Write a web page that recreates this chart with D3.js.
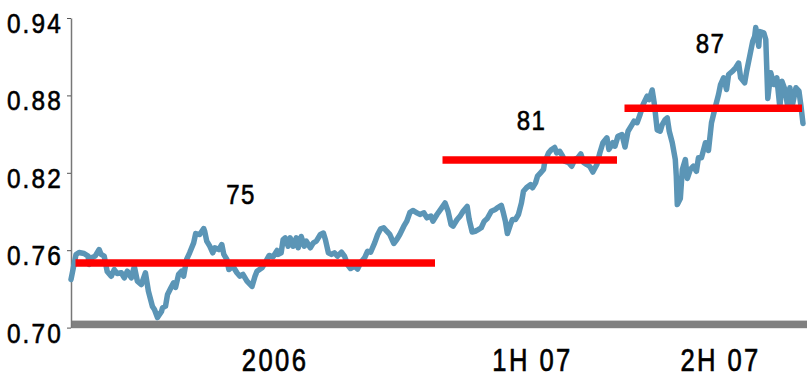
<!DOCTYPE html>
<html>
<head>
<meta charset="utf-8">
<script src="https://cdn.jsdelivr.net/npm/d3@7"></script>
<style>
  html, body { margin: 0; padding: 0; background: #ffffff; }
  svg { display: block; }
</style>
</head>
<body>
<svg id="chart" width="807" height="378"></svg>
<script>
// Daily rate, sampled: days since 1 Jan 2006 and the rate on that day
const dayOffsets = [
  0, 5, 8, 13, 17, 18, 21, 24, 28, 30, 33, 36, 40, 43, 46, 50, 53, 56, 60, 63,
  66, 70, 74, 77, 81, 83, 86, 90, 91, 94, 96, 99, 102, 104, 107, 110, 112, 115, 118, 122,
  124, 128, 132, 133, 135, 138, 141, 143, 147, 150, 152, 155, 157, 161, 165, 168, 171, 175, 180, 183,
  185, 190, 194, 197, 201, 205, 206, 209, 211, 213, 216, 218, 221, 224, 226, 229, 232, 234, 238, 241,
  244, 248, 251, 253, 256, 259, 262, 265, 269, 272, 275, 278, 282, 285, 288, 292, 295, 298, 302, 305,
  308, 311, 314, 317, 321, 324, 327, 331, 334, 337, 340, 344, 347, 351, 354, 358, 360, 364, 368, 372,
  375, 378, 380, 384, 387, 390, 394, 396, 399, 402, 405, 408, 411, 414, 418, 422, 424, 428, 430, 432,
  434, 437, 439, 442, 445, 448, 450, 453, 457, 459, 462, 464, 467, 470, 471, 475, 478, 481, 483, 486,
  489, 491, 495, 498, 501, 504, 507, 510, 513, 516, 519, 523, 526, 529, 533, 535, 539, 541, 544, 548,
  551, 554, 558, 560, 563, 566, 569, 573, 575, 578, 580, 583, 586, 588, 591, 593, 595, 598, 601, 602,
  603, 606, 608, 611, 613, 616, 619, 622, 624, 627, 631, 634, 637, 641, 644, 646, 649, 652, 654, 658,
  661, 664, 666, 670, 672, 675, 678, 680, 681, 684, 685, 689, 691, 693, 696, 699, 702, 705, 707, 710,
  713, 715, 717, 721, 724, 726, 728
];
const rates = [
  0.7373, 0.7567, 0.7582, 0.7574, 0.7554, 0.7489, 0.7543, 0.7554, 0.7605, 0.7567, 0.7554, 0.7435, 0.7398, 0.7450, 0.7419, 0.7425, 0.7386, 0.7437, 0.7386, 0.7474,
  0.7360, 0.7334, 0.7425, 0.7282, 0.7164, 0.7140, 0.7078, 0.7125, 0.7153, 0.7166, 0.7257, 0.7303, 0.7347, 0.7311, 0.7412, 0.7437, 0.7398, 0.7528, 0.7580, 0.7657,
  0.7729, 0.7722, 0.7768, 0.7745, 0.7670, 0.7631, 0.7580, 0.7619, 0.7605, 0.7644, 0.7567, 0.7528, 0.7450, 0.7476, 0.7425, 0.7398, 0.7412, 0.7360, 0.7319, 0.7398,
  0.7437, 0.7464, 0.7515, 0.7559, 0.7549, 0.7598, 0.7567, 0.7580, 0.7683, 0.7696, 0.7631, 0.7696, 0.7631, 0.7696, 0.7619, 0.7706, 0.7631, 0.7670, 0.7619, 0.7657,
  0.7670, 0.7722, 0.7733, 0.7683, 0.7580, 0.7567, 0.7580, 0.7554, 0.7584, 0.7554, 0.7489, 0.7458, 0.7476, 0.7454, 0.7502, 0.7541, 0.7592, 0.7584, 0.7657, 0.7722,
  0.7766, 0.7774, 0.7747, 0.7722, 0.7652, 0.7683, 0.7722, 0.7786, 0.7825, 0.7892, 0.7908, 0.7890, 0.7877, 0.7890, 0.7851, 0.7864, 0.7825, 0.7877, 0.7921, 0.7966,
  0.7902, 0.7799, 0.7786, 0.7838, 0.7864, 0.7902, 0.7939, 0.7838, 0.7741, 0.7747, 0.7760, 0.7774, 0.7825, 0.7846, 0.7902, 0.7915, 0.7929, 0.7947, 0.7890, 0.7825,
  0.7729, 0.7799, 0.7838, 0.7838, 0.7877, 0.7967, 0.8057, 0.8084, 0.8109, 0.8084, 0.8122, 0.8174, 0.8200, 0.8226, 0.8278, 0.8355, 0.8381, 0.8396, 0.8355, 0.8367,
  0.8329, 0.8290, 0.8278, 0.8251, 0.8303, 0.8316, 0.8346, 0.8278, 0.8264, 0.8249, 0.8206, 0.8264, 0.8355, 0.8433, 0.8471, 0.8381, 0.8433, 0.8406, 0.8484, 0.8497,
  0.8400, 0.8522, 0.8574, 0.8600, 0.8588, 0.8652, 0.8729, 0.8794, 0.8768, 0.8842, 0.8743, 0.8532, 0.8522, 0.8574, 0.8613, 0.8626, 0.8522, 0.8433, 0.8303, 0.8174,
  0.7954, 0.8001, 0.8226, 0.8303, 0.8156, 0.8226, 0.8251, 0.8212, 0.8316, 0.8316, 0.8433, 0.8373, 0.8588, 0.8716, 0.8807, 0.8884, 0.8936, 0.8846, 0.8962, 0.8988,
  0.9014, 0.9051, 0.8936, 0.8898, 0.8988, 0.9104, 0.9220, 0.9259, 0.9326, 0.9181, 0.9295, 0.9285, 0.9233, 0.8776, 0.8975, 0.8884, 0.8936, 0.8706, 0.8910, 0.8846,
  0.8706, 0.8859, 0.8706, 0.8859, 0.8833, 0.8716, 0.8582
];

const yTicks = [0.70, 0.76, 0.82, 0.88, 0.94];

// Periods with their average level
const periodNames = ["2006", "1H 07", "2H 07"];
const periodStarts = ["2006-01-01", "2007-01-01", "2007-07-01"];
const periodEnds = ["2007-01-01", "2007-07-01", "2008-01-01"];
const periodLabelDates = ["2006-07-22", "2007-04-04", "2007-10-08"];
const periodAverages = [0.75, 0.83, 0.87];
const averageLabels = ["75", "81", "87"];
const averageLabelDates = ["2006-06-18", "2007-04-03", "2007-09-28"];
const averageLabelLevels = [0.7958, 0.8532, 0.9129];

const FONT = "'Liberation Sans', Arial, sans-serif";

const parseDate = d3.utcParse("%Y-%m-%d");
const seriesStart = parseDate("2006-01-01");
const seriesEnd = parseDate("2008-01-01");

const svg = d3.select("#chart");

const x = d3.scaleUtc().domain([seriesStart, seriesEnd]).range([71, 805]);
const y = d3.scaleLinear().domain([0.70, 0.94]).range([327.6, 18.0]);

const series = dayOffsets.map((d, i) => ({ date: d3.utcDay.offset(seriesStart, d), value: rates[i] }));

// Slightly heavier text, like a medium-weight condensed face
function medium(sel, w) {
  sel.attr("fill", "#000").attr("stroke", "#000").attr("stroke-width", w).attr("paint-order", "stroke");
}

// Heavy grey baseline along the bottom of the plot
svg.append("rect")
  .attr("x", x(seriesStart))
  .attr("y", y(0.70) - 7)
  .attr("width", 807 - x(seriesStart))
  .attr("height", 7.6)
  .attr("fill", "#808080");

// Value axis
const yAxis = d3.axisLeft(y)
  .tickValues(yTicks)
  .tickFormat(d3.format(".2f"))
  .tickSize(4)
  .tickSizeOuter(0)
  .tickPadding(7);

const yAxisG = svg.append("g")
  .attr("transform", `translate(${x(seriesStart)},0)`)
  .call(yAxis);

yAxisG.select(".domain").attr("stroke", "#777").attr("stroke-width", 1.5);
yAxisG.selectAll(".tick line").attr("stroke", "#555").attr("stroke-width", 1);
yAxisG.selectAll(".tick text")
  .attr("x", 0)
  .attr("dy", 0)
  .attr("transform", "translate(-8,14.5) scale(0.87,1)")
  .style("font-family", FONT)
  .style("font-size", "28px")
  .style("letter-spacing", "2.5px")
  .call(medium, 0.6);

// Rate line
const line = d3.line()
  .x(d => x(d.date))
  .y(d => y(d.value));

svg.append("path")
  .datum(series)
  .attr("d", line)
  .attr("fill", "none")
  .attr("stroke", "#5b95b6")
  .attr("stroke-width", 5.5)
  .attr("stroke-linejoin", "round")
  .attr("stroke-linecap", "round");

// Period averages
const periods = periodNames.map((name, i) => ({
  name,
  start: parseDate(periodStarts[i]),
  end: parseDate(periodEnds[i]),
  labelDate: parseDate(periodLabelDates[i]),
  avg: periodAverages[i],
  avgLabel: averageLabels[i],
  avgLabelDate: parseDate(averageLabelDates[i]),
  avgLabelLevel: averageLabelLevels[i]
}));

svg.append("g")
  .selectAll("line")
  .data(periods)
  .join("line")
  .attr("x1", d => x(d.start) + 4.5)
  .attr("x2", d => x(d.end) - 3)
  .attr("y1", d => y(d.avg))
  .attr("y2", d => y(d.avg))
  .attr("stroke", "#ff0000")
  .attr("stroke-width", 7.5);

svg.append("g")
  .selectAll("text")
  .data(periods)
  .join("text")
  .attr("transform", d => `translate(${x(d.avgLabelDate) + 1},${y(d.avgLabelLevel)}) scale(0.86,1)`)
  .attr("text-anchor", "middle")
  .style("font-family", FONT)
  .style("font-size", "28px")
  .style("letter-spacing", "1.5px")
  .call(medium, 0.6)
  .text(d => d.avgLabel);

// Period names beneath the baseline
svg.append("g")
  .selectAll("text")
  .data(periods)
  .join("text")
  .attr("transform", d => `translate(${x(d.labelDate) + 1},371) scale(0.8,1)`)
  .attr("text-anchor", "middle")
  .style("font-family", FONT)
  .style("font-size", "32px")
  .style("letter-spacing", "3px")
  .call(medium, 0.7)
  .text(d => d.name);
</script>
</body>
</html>
